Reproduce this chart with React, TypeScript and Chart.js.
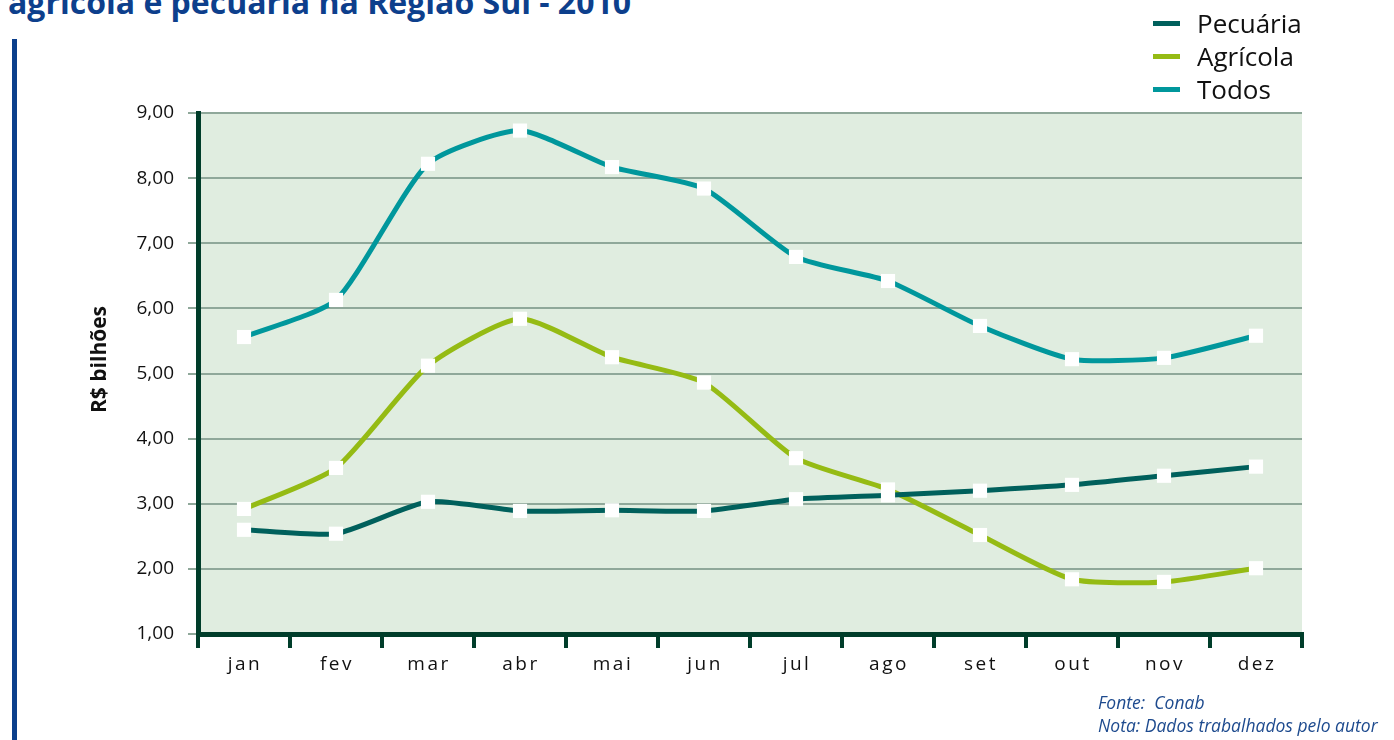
import React, { useEffect, useRef } from "react";
import { Chart, registerables } from "chart.js";

Chart.register(...registerables);

const months = ["jan", "fev", "mar", "abr", "mai", "jun", "jul", "ago", "set", "out", "nov", "dez"];
const pecuaria = [2.6, 2.54, 3.03, 2.89, 2.9, 2.89, 3.07, 3.13, 3.2, 3.29, 3.43, 3.57];
const agricola = [2.92, 3.55, 5.12, 5.84, 5.25, 4.86, 3.7, 3.22, 2.52, 1.84, 1.8, 2.01];
const todos = [5.56, 6.13, 8.22, 8.73, 8.17, 7.84, 6.79, 6.42, 5.73, 5.22, 5.24, 5.58];
const seriesNames = ["Pecuária", "Agrícola", "Todos"];
const seriesColors = ["#00605c", "#95bb14", "#00979c"];
const titleText = "agrícola e pecuária na Região Sul - 2010";
const yAxisTitle = "R$ bilhões";
const sourceLines = ["Fonte:  Conab", "Nota: Dados trabalhados pelo autor"];

const FONT = "'Open Sans', 'DejaVu Sans', sans-serif";

export default function App() {
  const ref = useRef<HTMLCanvasElement | null>(null);

  useEffect(() => {
    const canvas = ref.current;
    if (!canvas) return;
    const bgPlugin = {
      id: "bgAndLabels",
      beforeDraw(chart: any) {
        const { ctx, chartArea } = chart;
        ctx.save();
        ctx.fillStyle = "#e0ede0";
        ctx.fillRect(chartArea.left, chartArea.top, chartArea.right - chartArea.left, chartArea.bottom - chartArea.top);
        ctx.restore();
      },
      afterDraw(chart: any) {
        const { ctx, chartArea } = chart;
        const xs = chart.scales.x;
        ctx.save();
        (ctx as any).letterSpacing = "2.5px";
        ctx.font = `19px ${FONT}`;
        ctx.fillStyle = "#111111";
        ctx.textAlign = "center";
        ctx.textBaseline = "middle";
        months.forEach((m, i) => {
          ctx.fillText(m, xs.getPixelForValue(i) + 1, 665);
        });
        (ctx as any).letterSpacing = "0px";
        ctx.translate(100, (chartArea.top + chartArea.bottom) / 2 - 14);
        ctx.rotate(-Math.PI / 2);
        ctx.font = `bold 21px ${FONT}`;
        ctx.fillText(yAxisTitle, 0, 0);
        ctx.restore();
      },
    };

    const mk = (label: string, data: number[], color: string) => ({
      label,
      data,
      borderColor: color,
      backgroundColor: color,
      borderWidth: 5,
      tension: 0.2,
      pointStyle: "rect",
      pointRadius: 10,
      pointHoverRadius: 10,
      pointBackgroundColor: "#ffffff",
      pointBorderWidth: 0,
      fill: false,
    });

    const chart = new Chart(canvas, {
      type: "line",
      data: {
        labels: months,
        datasets: [
          mk(seriesNames[0], pecuaria, seriesColors[0]),
          mk(seriesNames[1], agricola, seriesColors[1]),
          mk(seriesNames[2], todos, seriesColors[2]),
        ],
      },
      options: {
        animation: false,
        responsive: false,
        maintainAspectRatio: false,
        events: [],
        layout: { padding: { left: 0, right: 92, top: 113, bottom: 0 } },
        plugins: { legend: { display: false }, tooltip: { enabled: false } },
        scales: {
          x: {
            type: "category",
            offset: true,
            grid: {
              offset: true,
              drawOnChartArea: false,
              drawTicks: true,
              tickLength: 14,
              color: "#003d2a",
              lineWidth: 4,
            },
            border: { display: true, color: "#003d2a", width: 5 },
            ticks: { color: "rgba(0,0,0,0)", font: { size: 17, family: FONT } },
            afterFit(scale: any) {
              scale.height = 106;
            },
          },
          y: {
            min: 1,
            max: 9,
            ticks: {
              stepSize: 1,
              padding: 14,
              color: "#111111",
              font: { size: 19, family: FONT },
              callback: (v: any) => Number(v).toFixed(2).replace(".", ","),
            },
            grid: { color: "#8fa89a", lineWidth: 2, tickLength: 10, tickColor: "#8fa89a" },
            border: { display: true, color: "#003d2a", width: 5 },
            afterFit(scale: any) {
              scale.width = 198;
            },
          },
        },
      },
      plugins: [bgPlugin],
    } as any);
    return () => chart.destroy();
  }, []);

  return (
    <div style={{ position: "fixed", left: 0, top: 0, width: 1394, height: 740, background: "#ffffff", overflow: "hidden", fontFamily: FONT }}>
      <div style={{ position: "absolute", left: 8, top: -16, fontSize: 32, fontWeight: 700, color: "#0d3f8c", whiteSpace: "nowrap", lineHeight: "36px" }}>
        {titleText}
      </div>
      <div style={{ position: "absolute", left: 12, top: 39, width: 5, height: 701, background: "#0b3f8c" }} />
      <canvas ref={ref} width={1394} height={740} style={{ position: "absolute", left: 0, top: 0, width: 1394, height: 740 }} />
      {seriesNames.map((n, i) => (
        <div key={n} style={{ position: "absolute", left: 1153, top: 7 + i * 33, height: 33, display: "flex", alignItems: "center" }}>
          <div style={{ width: 27, height: 5, background: seriesColors[i], marginRight: 17 }} />
          <span style={{ fontSize: 26, color: "#111111", lineHeight: "33px" }}>{n}</span>
        </div>
      ))}
      {sourceLines.map((t, i) => (
        <div key={t} style={{ position: "absolute", left: 1098, top: 691 + i * 23, fontSize: 17.5, fontStyle: "italic", color: "#1d4a8e", whiteSpace: "pre", lineHeight: "22px" }}>
          {t}
        </div>
      ))}
    </div>
  );
}
